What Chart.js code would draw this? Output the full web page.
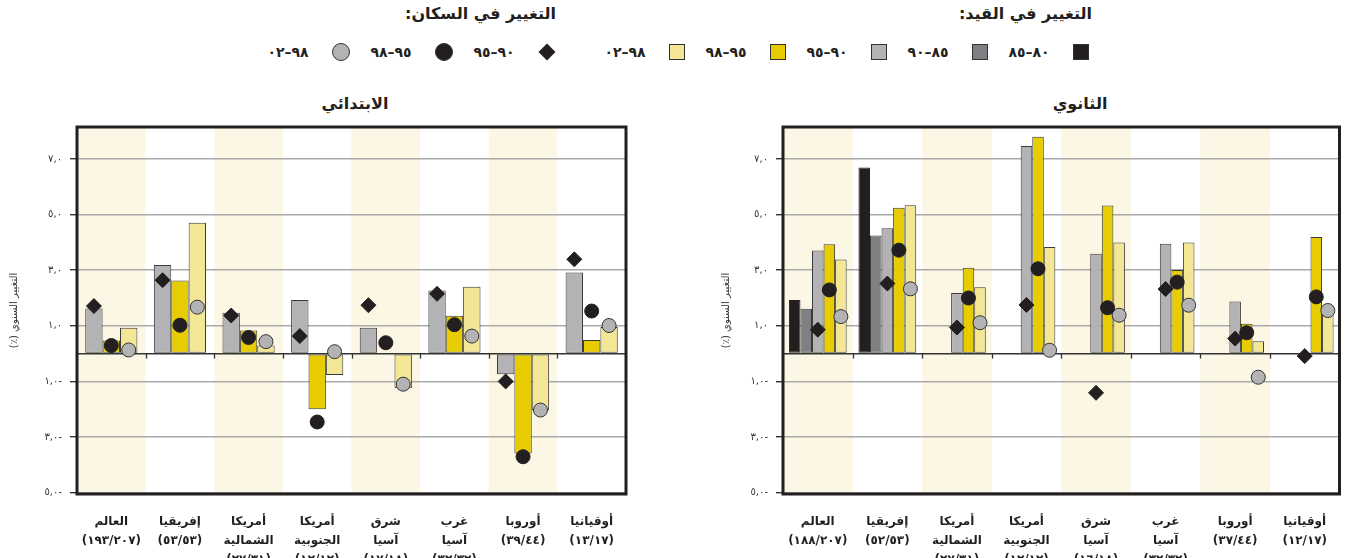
<!DOCTYPE html>
<html lang="ar">
<head>
<meta charset="utf-8">
<script src="https://cdn.jsdelivr.net/npm/chart.js@4"></script>
<style>
  body { margin: 0; width: 1348px; height: 558px; overflow: hidden; background: #fff; position: relative;
         font-family: "DejaVu Sans", sans-serif; color: #231f20; }
  .lg-title { position: absolute; top: 4px; font-weight: bold; font-size: 16px; direction: rtl; text-align: right; white-space: nowrap; }
  .lg-row { position: absolute; top: 43px; height: 18px; display: flex; direction: rtl; align-items: center; font-size: 14px; font-weight: bold; }
  .lg-item { display: flex; align-items: center; }
  .lg-item span { display: inline-block; width: 48px; text-align: center; margin-right: 20px; margin-left: 17px; }
  .sw { width: 16px; height: 16px; box-sizing: border-box; border: 1px solid #333; }
  .dia { width: 12px; height: 12px; margin: 0 3px; background: #231f20; transform: rotate(45deg); }
  .dot { width: 18px; height: 18px; border-radius: 50%; box-sizing: border-box; border: 1px solid #333; }
  .panel-title { position: absolute; top: 94px; font-weight: bold; font-size: 16px; direction: rtl; transform: translateX(-50%); }
  .box { position: absolute; top: 90px; height: 500px; }
</style>
</head>
<body>
<div class="lg-title" style="right:256px">التغيير في القيد:</div>
<div class="lg-row" id="enrolLegend" style="right:259px"></div>
<div class="lg-title" style="right:792px">التغيير في السكان:</div>
<div class="lg-row" id="popLegend" style="right:792px"></div>

<div class="panel-title" style="left:355px">الابتدائي</div>
<div class="panel-title" style="left:1080px">الثانوي</div>

<div class="box" style="left:0; width:650px"><canvas id="primary"></canvas></div>
<div class="box" style="left:700px; width:648px"><canvas id="secondary"></canvas></div>

<script>
// categories, left to right
const categories = [['العالم'], ['إفريقيا'], ['أمريكا', 'الشمالية'], ['أمريكا', 'الجنوبية'],
                    ['شرق', 'آسيا'], ['غرب', 'آسيا'], ['أوروبا'], ['أوقيانيا']];
const primaryCounts = ['١٩٣/٢٠٧', '٥٣/٥٣', '٢٧/٣١', '١٢/١٢', '١٧/١٨', '٣٢/٣٢', '٣٩/٤٤', '١٣/١٧'];
const secondaryCounts = ['١٨٨/٢٠٧', '٥٢/٥٣', '٢٧/٣١', '١٢/١٢', '١٦/١٨', '٣٢/٣٢', '٣٧/٤٤', '١٢/١٧'];

const enrolPeriods = ['٨٠–٨٥', '٨٥–٩٠', '٩٠–٩٥', '٩٥–٩٨', '٩٨–٠٢'];
const popPeriods = ['٩٠–٩٥', '٩٥–٩٨', '٩٨–٠٢'];
const yTicks = [7, 5, 3, 1, -1, -3, -5];

// primary: enrolment change (%)
const prim9095 = [1.62, 3.19, 1.47, 1.93, 0.93, 2.27, -0.74, 2.92];
const prim9598 = [0.47, 2.63, 0.83, -2.0, null, 1.36, -3.59, 0.49];
const prim9802 = [0.93, 4.71, 0.29, -0.77, -1.25, 2.40, -2.04, 0.96];
// primary: school-age population change (%)
const primPop9095 = [1.71, 2.64, 1.37, 0.63, 1.74, 2.15, -1.0, 3.39];
const primPop9598 = [0.29, 1.02, 0.58, -2.46, 0.39, 1.04, -3.71, 1.53];
const primPop9802 = [0.13, 1.67, 0.43, 0.07, -1.10, 0.63, -2.03, 1.01];

// secondary: enrolment change (%)
const sec8085 = [1.93, 6.69, null, null, null, null, null, null];
const sec8590 = [1.61, 4.25, null, null, null, null, null, null];
const sec9095 = [3.71, 4.51, 2.18, 7.47, 3.59, 3.95, 1.87, null];
const sec9598 = [3.93, 5.25, 3.09, 7.80, 5.33, 3.01, 1.07, 4.19];
const sec9802 = [3.38, 5.34, 2.39, 3.83, 4.00, 4.00, 0.44, 1.55];
// secondary: school-age population change (%)
const secPop9095 = [0.86, 2.52, 0.94, 1.75, -1.41, 2.32, 0.54, -0.09];
const secPop9598 = [2.29, 3.72, 2.00, 3.05, 1.65, 2.57, 0.75, 2.04];
const secPop9802 = [1.33, 2.33, 1.11, 0.12, 1.38, 1.74, -0.85, 1.55];

const enrolColors = ['#231f20', '#807f83', '#b3b3b5', '#e6cc00', '#f3e694'];
const popStyles = [
  { pointStyle: 'rectRot', radius: 7.5, bg: '#231f20', border: '#231f20' },
  { pointStyle: 'circle', radius: 7, bg: '#231f20', border: '#231f20' },
  { pointStyle: 'circle', radius: 7, bg: '#b3b3b5', border: '#333' }
];

function arabicNum(s) {
  return s.replace(/[0-9]/g, d => '٠١٢٣٤٥٦٧٨٩'[d]).replace('.', ',');
}
function tickLabel(v) {
  if (v === 0) return '';
  const s = arabicNum(Math.abs(v).toFixed(1));
  return v < 0 ? s + '-' : s;
}

// legends
const enrolLegend = document.getElementById('enrolLegend');
enrolPeriods.forEach((p, i) => {
  enrolLegend.insertAdjacentHTML('beforeend',
    '<div class="lg-item"><div class="sw" style="background:' + enrolColors[i] + '"></div><span>' + p + '</span></div>');
});
const popLegend = document.getElementById('popLegend');
popPeriods.forEach((p, i) => {
  const st = popStyles[i];
  const mark = st.pointStyle === 'rectRot'
    ? '<div class="dia"></div>'
    : '<div class="dot" style="background:' + st.bg + '"></div>';
  popLegend.insertAdjacentHTML('beforeend', '<div class="lg-item">' + mark + '<span>' + p + '</span></div>');
});

Chart.defaults.font.family = '"DejaVu Sans", sans-serif';
Chart.defaults.color = '#231f20';

const panelDecor = {
  id: 'panelDecor',
  afterDatasetsUpdate(chart) {
    // put each population marker over its matching period bar
    chart.data.datasets.forEach((ds, i) => {
      if (ds.pair === undefined) return;
      const bars = chart.getDatasetMeta(ds.pair).data;
      chart.getDatasetMeta(i).data.forEach((pt, j) => { pt.x = bars[j].x; });
    });
  },
  beforeDraw(chart) {
    const { ctx, chartArea: a, scales: { x } } = chart;
    const half = (x.getPixelForValue(1) - x.getPixelForValue(0)) / 2;
    ctx.save();
    ctx.fillStyle = '#fbf7e4';
    for (let i = 0; i < chart.data.labels.length; i += 2) {
      const c = x.getPixelForValue(i);
      ctx.fillRect(c - half, a.top, half * 2, a.bottom - a.top);
    }
    ctx.restore();
  },
  afterDatasetsDraw(chart) {
    const { ctx, scales: { x, y } } = chart;
    const half = (x.getPixelForValue(1) - x.getPixelForValue(0)) / 2;
    const y0 = y.getPixelForValue(0);
    ctx.save();
    ctx.strokeStyle = '#333';
    ctx.lineWidth = 1.3;
    for (let i = 1; i < chart.data.labels.length; i++) {
      const bx = Math.round(x.getPixelForValue(i) - half) + 0.5;
      ctx.beginPath();
      ctx.moveTo(bx, y0);
      ctx.lineTo(bx, y0 + 5);
      ctx.stroke();
    }
    ctx.restore();
  },
  afterDraw(chart) {
    const { ctx, chartArea: a } = chart;
    ctx.save();
    ctx.strokeStyle = '#231f20';
    ctx.lineWidth = 3;
    ctx.strokeRect(a.left, a.top, a.right - a.left, a.bottom - a.top);
    ctx.restore();
  }
};

function makePanel(id, counts, bars, pops, opt) {
  const labels = categories.map((c, i) => c.concat('(' + counts[i] + ')'));
  const datasets = [];
  bars.forEach(b => {
    datasets.push({
      type: 'bar', label: enrolPeriods[b.period], data: b.data, order: 2,
      backgroundColor: enrolColors[b.period],
      borderColor: b.period === 0 ? enrolColors[0] : '#3a3a3a',
      borderWidth: 1, borderSkipped: false,
      categoryPercentage: opt.catPct, barPercentage: 1.0
    });
  });
  pops.forEach((p, k) => {
    const st = popStyles[k];
    datasets.push({
      type: 'line', label: popPeriods[k], data: p.data, order: 1, showLine: false,
      pair: p.pair, pointStyle: st.pointStyle, pointRadius: st.radius,
      pointBackgroundColor: st.bg, pointBorderColor: st.border, pointBorderWidth: 1
    });
  });

  new Chart(document.getElementById(id), {
    data: { labels: labels, datasets: datasets },
    options: {
      responsive: true, maintainAspectRatio: false, animation: false, events: [],
      layout: { padding: { top: 37, right: opt.padRight, left: 0, bottom: 0 } },
      plugins: { legend: { display: false }, tooltip: { enabled: false } },
      scales: {
        x: {
          offset: true,
          grid: { display: false, drawTicks: false },
          border: { display: false },
          ticks: { autoSkip: false, maxRotation: 0, padding: 18,
                   font: { size: 12, weight: 'bold', lineHeight: 1.6 }, color: '#231f20' },
          afterFit: s => { s.height = 96; }
        },
        y: {
          min: -5.05, max: 8.15,
          afterBuildTicks: s => { s.ticks = yTicks.concat([0]).map(v => ({ value: v })); },
          afterFit: s => { s.width = opt.yWidth; },
          grid: {
            color: c => c.tick && c.tick.value === 0 ? '#333' : '#a9a9a9',
            lineWidth: c => c.tick && c.tick.value === 0 ? 1.6 : 1.4,
            tickColor: c => c.tick && c.tick.value === 0 ? 'rgba(0,0,0,0)' : '#333',
            tickLength: 7
          },
          border: { display: false },
          ticks: { padding: 8, font: { size: 10 }, color: '#333', callback: v => tickLabel(v) },
          title: { display: true, text: '(٪) التغيير السنوي', font: { size: 10 }, color: '#333',
                   padding: { top: opt.titlePad, bottom: 0 } }
        }
      }
    },
    plugins: [panelDecor]
  });
}

makePanel('primary', primaryCounts,
  [{ period: 2, data: prim9095 }, { period: 3, data: prim9598 }, { period: 4, data: prim9802 }],
  [{ pair: 0, data: primPop9095 }, { pair: 1, data: primPop9598 }, { pair: 2, data: primPop9802 }],
  { catPct: 0.76, padRight: 24, yWidth: 77, titlePad: 8 });

makePanel('secondary', secondaryCounts,
  [{ period: 0, data: sec8085 }, { period: 1, data: sec8590 }, { period: 2, data: sec9095 },
   { period: 3, data: sec9598 }, { period: 4, data: sec9802 }],
  [{ pair: 2, data: secPop9095 }, { pair: 3, data: secPop9598 }, { pair: 4, data: secPop9802 }],
  { catPct: 0.83, padRight: 5, yWidth: 83, titlePad: 20 });
</script>
</body>
</html>
